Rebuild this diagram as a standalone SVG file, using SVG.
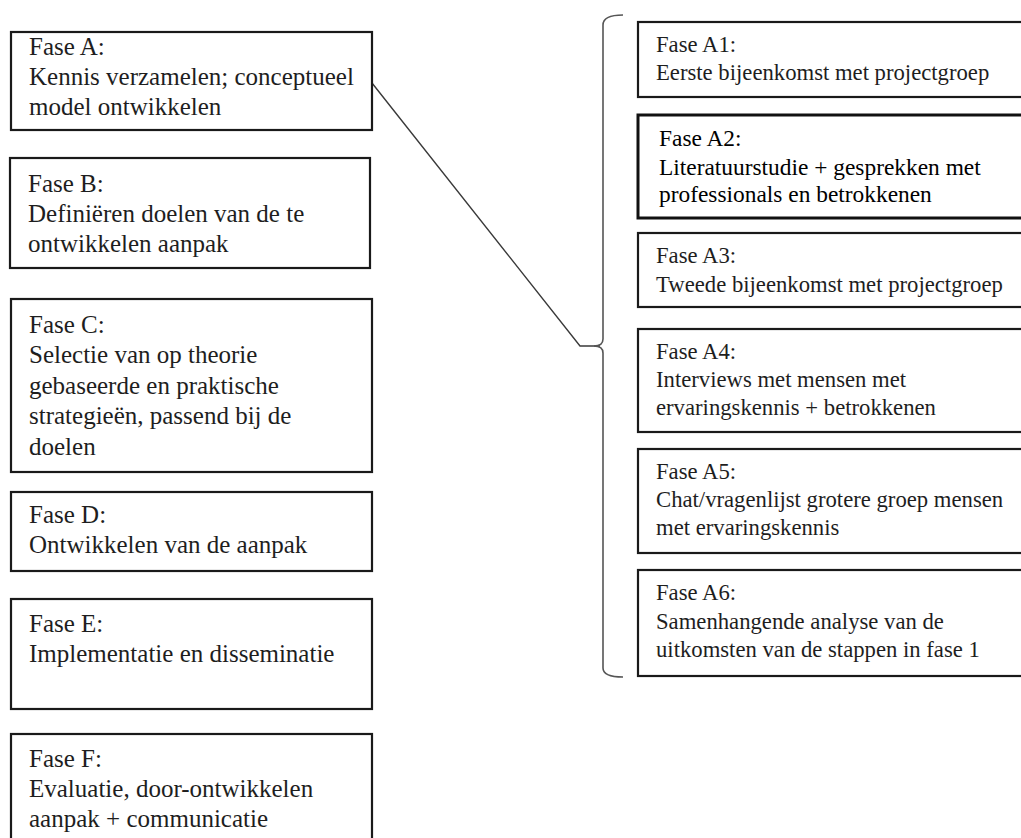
<svg xmlns="http://www.w3.org/2000/svg" width="1021" height="838" viewBox="0 0 1021 838">
<style>
.box{fill:#fff;stroke:#1a1a1a;stroke-width:2.2}
.box2{fill:#fff;stroke:#111;stroke-width:3}
.tl{font-size:25px;fill:#1e1e1e}
.tr{font-size:22.7px;fill:#1e1e1e}
.tr2{font-size:23.4px;fill:#000}
.conn{fill:none;stroke:#3a3a3a;stroke-width:1.4}
.brace{fill:none;stroke:#555;stroke-width:1.6}
</style>
<rect width="1021" height="838" fill="#fff"/>
<g id="connectors">
<path class="conn" d="M372,83 L580,346 L600,346"/>
<path class="brace" d="M623,15 Q603,15 603,25 L603,339 Q603,346 594,346 Q603,346 603,353 L603,668 Q603,677 623,677"/>
</g>
<g id="nodes" font-family="Liberation Serif, Times New Roman, serif">
<g id="faseA">
<rect class="box" x="11" y="32" width="361" height="98"/>
<text class="tl" x="29" y="55">Fase A:</text>
<text class="tl" x="29" y="85">Kennis verzamelen; conceptueel</text>
<text class="tl" x="29" y="115">model ontwikkelen</text>
</g>
<g id="faseB">
<rect class="box" x="10" y="158" width="360" height="110"/>
<text class="tl" x="28" y="192">Fase B:</text>
<text class="tl" x="28" y="222">Definiëren doelen van de te</text>
<text class="tl" x="28" y="252">ontwikkelen aanpak</text>
</g>
<g id="faseC">
<rect class="box" x="11" y="299" width="361" height="173"/>
<text class="tl" x="29" y="333">Fase C:</text>
<text class="tl" x="29" y="363">Selectie van op theorie</text>
<text class="tl" x="29" y="394">gebaseerde en praktische</text>
<text class="tl" x="29" y="424">strategieën, passend bij de</text>
<text class="tl" x="29" y="455">doelen</text>
</g>
<g id="faseD">
<rect class="box" x="11" y="492" width="361" height="79"/>
<text class="tl" x="29" y="523">Fase D:</text>
<text class="tl" x="29" y="553">Ontwikkelen van de aanpak</text>
</g>
<g id="faseE">
<rect class="box" x="11" y="599" width="361" height="110"/>
<text class="tl" x="29" y="632">Fase E:</text>
<text class="tl" x="29" y="662">Implementatie en disseminatie</text>
</g>
<g id="faseF">
<rect class="box" x="11" y="734" width="361" height="120"/>
<text class="tl" x="29" y="767">Fase F:</text>
<text class="tl" x="29" y="797">Evaluatie, door-ontwikkelen</text>
<text class="tl" x="29" y="827">aanpak + communicatie</text>
</g>
<g id="faseA1">
<rect class="box" x="638" y="22" width="400" height="75"/>
<text class="tr" x="656" y="52">Fase A1:</text>
<text class="tr" x="656" y="80">Eerste bijeenkomst met projectgroep</text>
</g>
<g id="faseA2">
<rect class="box2" x="638" y="115" width="400" height="103"/>
<text class="tr2" x="659" y="146">Fase A2:</text>
<text class="tr2" x="659" y="175">Literatuurstudie + gesprekken met</text>
<text class="tr2" x="659" y="202">professionals en betrokkenen</text>
</g>
<g id="faseA3">
<rect class="box" x="638" y="233" width="400" height="74"/>
<text class="tr" x="656" y="263">Fase A3:</text>
<text class="tr" x="656" y="292">Tweede bijeenkomst met projectgroep</text>
</g>
<g id="faseA4">
<rect class="box" x="638" y="329" width="400" height="103"/>
<text class="tr" x="656" y="359">Fase A4:</text>
<text class="tr" x="656" y="387">Interviews met mensen met</text>
<text class="tr" x="656" y="415">ervaringskennis + betrokkenen</text>
</g>
<g id="faseA5">
<rect class="box" x="638" y="449" width="400" height="104"/>
<text class="tr" x="656" y="479">Fase A5:</text>
<text class="tr" x="656" y="507">Chat/vragenlijst grotere groep mensen</text>
<text class="tr" x="656" y="535">met ervaringskennis</text>
</g>
<g id="faseA6">
<rect class="box" x="638" y="570" width="400" height="106"/>
<text class="tr" x="656" y="600">Fase A6:</text>
<text class="tr" x="656" y="629">Samenhangende analyse van de</text>
<text class="tr" x="656" y="657">uitkomsten van de stappen in fase 1</text>
</g>
</g>
</svg>
